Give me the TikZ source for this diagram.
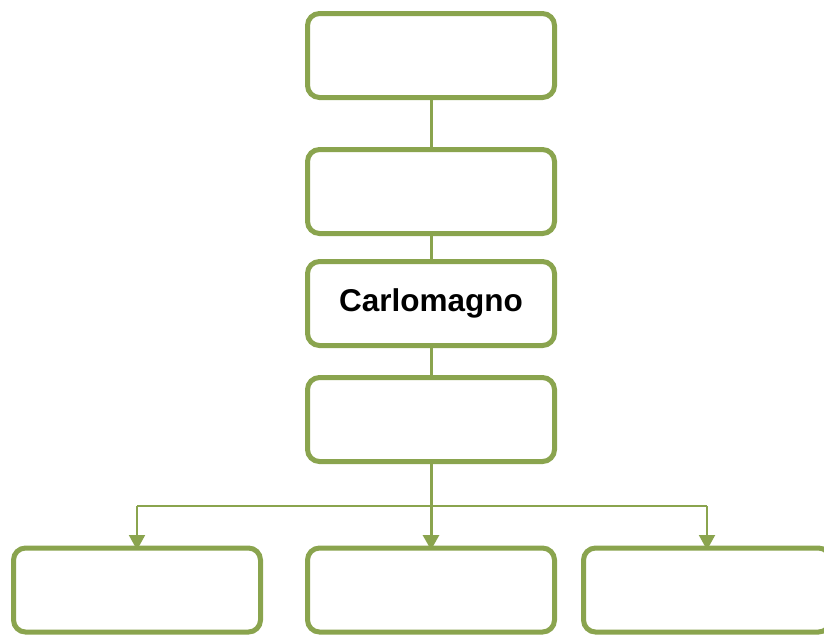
\documentclass[tikz,border=0pt]{standalone}
\usepackage{fontspec}
\setmainfont{Liberation Sans}
\usetikzlibrary{arrows.meta}
\definecolor{olive}{RGB}{138,164,78}
\begin{document}
\begin{tikzpicture}[x=1pt,y=-1pt,
  box/.style={draw=olive,line width=5pt,rounded corners=12pt,fill=white,
    minimum width=247pt,minimum height=84pt,inner sep=0pt,outer sep=0pt,
    font=\fontsize{31.5}{37}\selectfont\bfseries},
  conn/.style={draw=olive,line width=3pt},
  thin/.style={draw=olive,line width=2pt},
  arr/.style={-{Triangle[length=15pt,width=16pt]}}]
\useasboundingbox (0,0) rectangle (824,635);
\begin{scope}
\clip (0,0) rectangle (824,635);
\node[box] (b1) at (431,55.5) {};
\node[box] (b2) at (431,191.5) {};
\node[box] (b3) at (431,303.5) {Carlomagno};
\node[box] (b4) at (431,419.5) {};
\node[box] (c1) at (137,590) {};
\node[box] (c2) at (431,590) {};
\node[box] (c3) at (707,590) {};
\coordinate (h) at (431,506);
\coordinate (hl) at (137,506);
\coordinate (hr) at (707,506);
\draw[conn] (b1.south) -- (b2.north);
\draw[conn] (b2.south) -- (b3.north);
\draw[conn] (b3.south) -- (b4.north);
\draw[thin] (hl) -- (hr);
\draw[conn,arr] (b4.south) -- ([yshift=-2pt]c2.north);
\draw[thin,arr] (hl) -- ([yshift=-2pt]c1.north);
\draw[thin,arr] (hr) -- ([yshift=-2pt]c3.north);
\end{scope}
\end{tikzpicture}
\end{document}
